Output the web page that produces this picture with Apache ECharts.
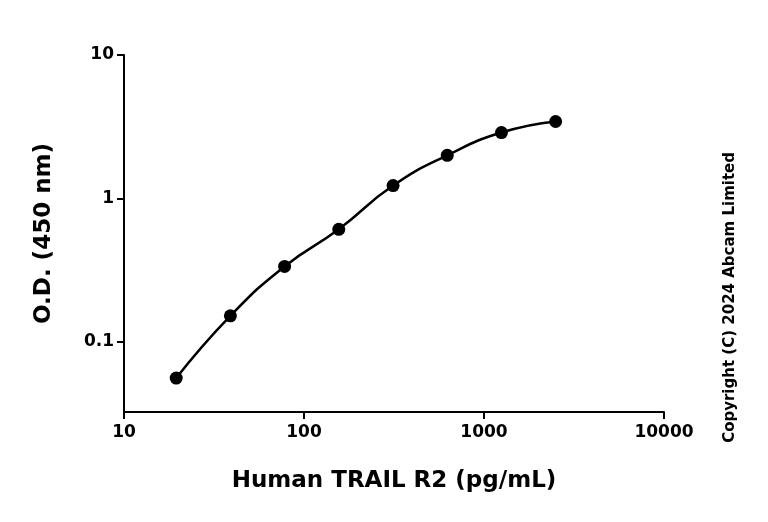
<!DOCTYPE html>
<html><head><meta charset="utf-8">
<script src="https://cdn.jsdelivr.net/npm/echarts@6/dist/echarts.min.js"></script>
<style>html,body{margin:0;padding:0;background:#fff}#c{width:768px;height:522px}</style>
</head><body><div id="c"></div>
<script>
const concentrations = [19.5, 39, 78, 156, 312.5, 625, 1250, 2500];
const odValues = [0.056, 0.152, 0.336, 0.61, 1.23, 2.0, 2.88, 3.44];
const xTickLabels = ['10', '100', '1000', '10000'];
const yTickLabels = ['0.1', '1', '10'];
const pts = concentrations.map((c, i) => [c, odValues[i]]);
const font = '"DejaVu Sans", sans-serif';
const chart = echarts.init(document.getElementById('c'));
chart.setOption({
  animation: false,
  grid: {left: 124, top: 55, right: 104, bottom: 110},
  xAxis: {
    type: 'log', logBase: 10, min: 10, max: 10000,
    name: 'Human TRAIL R2 (pg/mL)', nameLocation: 'middle', nameGap: 58,
    nameTextStyle: {fontFamily: font, fontWeight: 'bold', fontSize: 23, color: '#000'},
    axisLine: {lineStyle: {color: '#000', width: 2}},
    axisTick: {length: 7, lineStyle: {color: '#000', width: 2}},
    minorTick: {show: false}, splitLine: {show: false},
    axisLabel: {fontFamily: font, fontWeight: 'bold', fontSize: 17, color: '#000', margin: 12,
      formatter: v => { const s = String(Math.round(v)); return xTickLabels.includes(s) ? s : ''; }}
  },
  yAxis: {
    type: 'log', logBase: 10, min: 0.0325, max: 10,
    name: 'O.D. (450 nm)', nameLocation: 'middle', nameGap: 68, nameRotate: 90,
    nameTextStyle: {fontFamily: font, fontWeight: 'bold', fontSize: 23, color: '#000'},
    axisLine: {show: true, lineStyle: {color: '#000', width: 2}},
    axisTick: {length: 7, lineStyle: {color: '#000', width: 2}},
    minorTick: {show: false}, splitLine: {show: false},
    axisLabel: {fontFamily: font, fontWeight: 'bold', fontSize: 17, color: '#000', margin: 10, showMinLabel: false,
      formatter: v => { const s = String(+v.toPrecision(3)); return yTickLabels.includes(s) ? s : ''; }}
  },
  series: [
    {type: 'line', data: pts, smooth: 0.5, showSymbol: false, lineStyle: {color: '#000', width: 2.5}, z: 2},
    {type: 'scatter', data: pts, symbolSize: 13, itemStyle: {color: '#000', opacity: 1}, z: 3}
  ],
  graphic: [{type: 'text', left: 723, top: 152, rotation: Math.PI/2,
    style: {text: 'Copyright (C) 2024 Abcam Limited', fontFamily: font, fontWeight: 'bold', fontSize: 15, fill: '#000'}}]
});
</script></body></html>
